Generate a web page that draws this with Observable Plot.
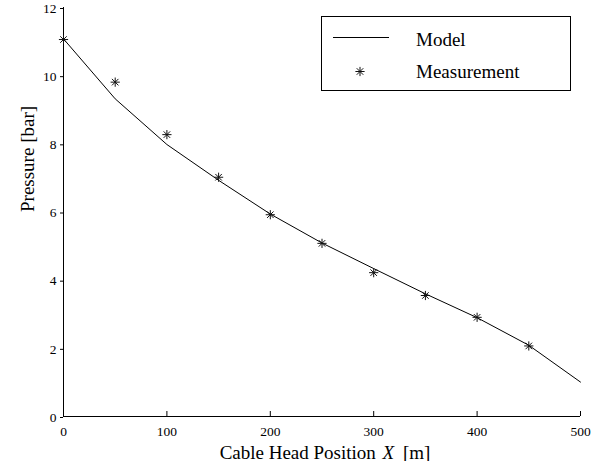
<!DOCTYPE html>
<html>
<head>
<meta charset="utf-8">
<script src="https://cdn.jsdelivr.net/npm/d3@7"></script>
<script src="https://cdn.jsdelivr.net/npm/@observablehq/plot@0.6"></script>
<style>
  html, body { margin: 0; padding: 0; background: white; }
  #chart svg, #chart svg text, #chart svg tspan { font-family: "Liberation Serif", "Times New Roman", serif !important; }
</style>
</head>
<body>
<div id="chart"></div>
<script>
const xTicks = [0, 100, 200, 300, 400, 500];
const yTicks = [0, 2, 4, 6, 8, 10, 12];
const modelX = [0, 50, 100, 150, 200, 250, 300, 350, 400, 450, 500];
const modelP = [11.08, 9.32, 7.98, 6.93, 5.94, 5.09, 4.34, 3.6, 2.9, 2.09, 1.01];
const measX = [0, 50, 100, 150, 200, 250, 300, 350, 400, 450];
const measP = [11.06, 9.81, 8.27, 7.02, 5.92, 5.08, 4.22, 3.55, 2.91, 2.07];
const seriesNames = ["Model", "Measurement"];
const xLabel = "Cable Head Position X [m]";
const yLabel = "Pressure [bar]";

const model = modelX.map((x, i) => ({x, p: modelP[i]}));
const meas = measX.map((x, i) => ({x, p: measP[i]}));

// MATLAB-style 8-armed asterisk
const star = {
  draw(ctx, size) {
    const r = Math.sqrt(size / Math.PI);
    const d = r * Math.SQRT1_2;
    ctx.moveTo(-r, 0); ctx.lineTo(r, 0);
    ctx.moveTo(0, -r); ctx.lineTo(0, r);
    ctx.moveTo(-d, -d); ctx.lineTo(d, d);
    ctx.moveTo(-d, d); ctx.lineTo(d, -d);
  }
};

const font = "'Liberation Serif', 'Times New Roman', serif";

const chart = Plot.plot({
  width: 612,
  height: 461,
  marginLeft: 63,
  marginRight: 32,
  marginTop: 7,
  marginBottom: 45,
  x: {domain: [0, 500]},
  y: {domain: [0, 12]},
  style: {fontFamily: font, background: "white", color: "black"},
  marks: [
    Plot.axisY(yTicks, {tickSize: 3, tickPadding: 4, fontSize: 13.5, label: null, dy: 1}),
    Plot.axisX(xTicks, {tickSize: 0, tickPadding: 10, fontSize: 13.5, label: null}),
    Plot.ruleX(xTicks, {insetTop: 404, stroke: "black"}),
    Plot.ruleX([0], {stroke: "black"}),
    Plot.ruleY([0], {stroke: "black"}),
    Plot.line(model, {x: "x", y: "p", stroke: "black", strokeWidth: 1}),
    Plot.dot(meas, {x: "x", y: "p", symbol: star, r: 4.6, stroke: "#111", strokeWidth: 1}),
    Plot.text([xLabel], {frameAnchor: "bottom", dy: 42, dx: 3, lineAnchor: "bottom", fontSize: 19, text: d => d}),
    Plot.text([yLabel], {frameAnchor: "left", dx: -30, rotate: -90, lineAnchor: "bottom", fontSize: 19, text: d => d})
  ]
});

document.getElementById("chart").appendChild(chart);

const svg = d3.select(chart);
// italic X in x label
svg.selectAll("text").filter(function() { return this.textContent === xLabel; }).each(function() {
  const t = d3.select(this);
  t.text(null);
  t.append("tspan").text("Cable Head Position ");
  t.append("tspan").attr("font-style", "italic").attr("dx", 2).text("X");
  t.append("tspan").attr("dx", 4).text(" [m]");
});

// legend
const lg = svg.append("g").attr("font-size", 19).attr("text-anchor", "start");
lg.append("rect").attr("x", 321.5).attr("y", 16.5).attr("width", 249).attr("height", 74)
  .attr("fill", "white").attr("stroke", "black").attr("stroke-width", 1);
lg.append("line").attr("x1", 333).attr("x2", 389).attr("y1", 37.5).attr("y2", 37.5)
  .attr("stroke", "black").attr("stroke-width", 1);
lg.append("path").attr("transform", "translate(360,71.5)")
  .attr("d", d3.symbol(star, Math.PI * 4.6 * 4.6)())
  .attr("stroke", "#111").attr("fill", "none");
lg.append("text").attr("x", 416).attr("y", 45.5).attr("text-anchor", "start").text(seriesNames[0]);
lg.append("text").attr("x", 416).attr("y", 78).attr("text-anchor", "start").text(seriesNames[1]);
</script>
</body>
</html>
